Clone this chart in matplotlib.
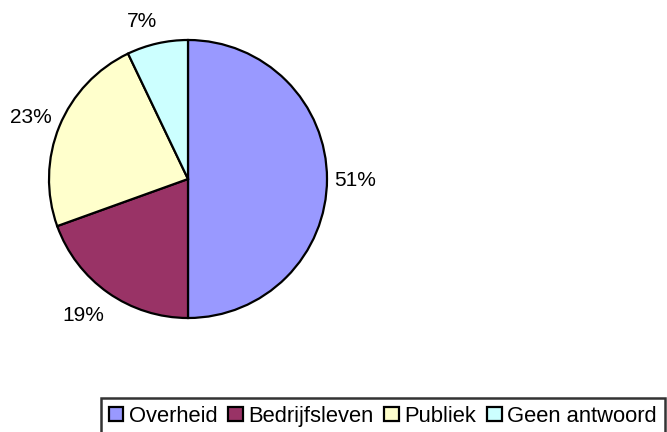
from matplotlib import pyplot as plt
from matplotlib.patches import Patch

# Data
categories: list[str] = ["Overheid", "Bedrijfsleven", "Publiek", "Geen antwoord"]
shares: list[float] = [50.0, 19.5, 23.4, 7.1]
pct_labels: list[str] = ["51%", "19%", "23%", "7%"]
colors: list[str] = ["#9999FF", "#993366", "#FFFFCC", "#CCFFFF"]
# label positions in pie-radius units (Excel places them freely)
label_xy: list[tuple[float, float]] = [(1.20, -0.01), (-0.755, -0.98), (-1.13, 0.445), (-0.33, 1.13)]

plt.rcParams['font.family'] = ['Liberation Sans', 'DejaVu Sans']

fig = plt.figure(figsize=(6.67, 4.32), dpi=100)
cx, cy, r = 188, 179, 139
W, H = 667, 432
ax = fig.add_axes([(cx - r) / W, (H - cy - r) / H, 2 * r / W, 2 * r / H])

ax.pie(shares, colors=colors, startangle=90, counterclock=False,
       wedgeprops={"edgecolor": "black", "linewidth": 1.6})
ax.set_xlim(-1, 1)
ax.set_ylim(-1, 1)
ax.set_aspect("equal")

for text, (x, y) in zip(pct_labels, label_xy):
    ax.text(x, y, text, ha="center", va="center", fontsize=15)

handles = [Patch(facecolor=c, edgecolor="black", linewidth=1.6) for c in colors]
leg = fig.legend(handles, categories, loc="upper left",
                 bbox_to_anchor=(101 / W, 1 - 398 / H), ncol=4,
                 fontsize=15.8, frameon=True, fancybox=False,
                 handlelength=0.66, handleheight=0.66, handletextpad=0.25,
                 columnspacing=0.5, borderpad=0.35, borderaxespad=0)
leg.get_frame().set_edgecolor("black")
leg.get_frame().set_linewidth(1.8)

fig.savefig("out.png", dpi=100)
